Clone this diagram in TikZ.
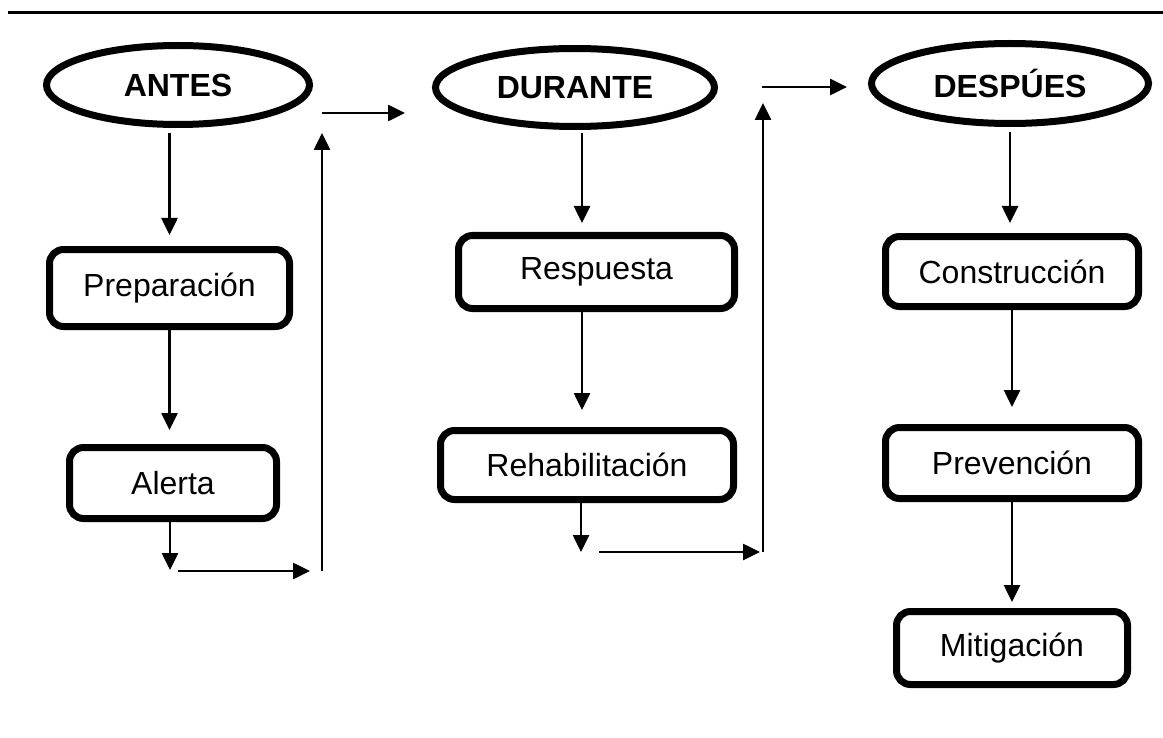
\documentclass[tikz,border=0pt]{standalone}
\usepackage{fontspec}
\setmainfont{Liberation Sans}
\usetikzlibrary{shapes.geometric,arrows.meta}
\tikzstyle{stage}=[draw=black, shape=ellipse, line width=3.5pt, inner sep=0pt, font=\fontsize{16}{19}\selectfont\bfseries]
\tikzstyle{phase}=[draw=black, shape=rectangle, rounded corners=7pt, line width=3.5pt, inner sep=0pt, font=\fontsize{16}{19}\selectfont]
\tikzstyle{arrow edge}=[-{Triangle[length=8.5pt,width=8pt]}, line width=1.3pt]
\tikzstyle{rule edge}=[-, line width=1.5pt]
\pgfdeclarelayer{nodelayer}
\pgfdeclarelayer{edgelayer}
\pgfsetlayers{edgelayer,nodelayer,main}
\begin{document}
\begin{tikzpicture}[x=0.5pt, y=-0.5pt]
	\useasboundingbox (0,0) rectangle (1163,738);
	\begin{pgfonlayer}{nodelayer}
		\node [style=stage, minimum width=131.5pt, minimum height=39.5pt] (0) at (178, 85) {ANTES};
		\node [style=stage, minimum width=139.5pt, minimum height=39pt] (1) at (575, 87.5) {DURANTE};
		\node [style=stage, minimum width=138.5pt, minimum height=40pt] (2) at (1010, 83.5) {DESPÚES};
		\node [style=phase, minimum width=120pt, minimum height=38.5pt] (3) at (169.5, 288) {Preparación};
		\node [style=phase, minimum width=103.5pt, minimum height=35.5pt] (4) at (173, 483) {Alerta};
		\node [style=phase, minimum width=138pt, minimum height=36.5pt] (5) at (596.5, 272) {Respuesta};
		\node [style=phase, minimum width=146.5pt, minimum height=34.5pt] (6) at (587, 465) {Rehabilitación};
		\node [style=phase, minimum width=126.5pt, minimum height=35pt] (7) at (1012, 271.5) {Construcción};
		\node [style=phase, minimum width=126.5pt, minimum height=35.5pt] (8) at (1012, 463) {Prevención};
		\node [style=phase, minimum width=115.5pt, minimum height=36.5pt] (9) at (1012, 648) {Mitigación};
		\coordinate (10) at (170, 570);
		\coordinate (11) at (178, 571);
		\coordinate (12) at (310, 571);
		\coordinate (13) at (322, 571);
		\coordinate (14) at (322, 133);
		\coordinate (15) at (322, 113);
		\coordinate (16) at (405, 113);
		\coordinate (17) at (581, 552);
		\coordinate (18) at (599, 552);
		\coordinate (19) at (760, 552);
		\coordinate (20) at (763, 552);
		\coordinate (21) at (763, 103);
		\coordinate (22) at (762, 87);
		\coordinate (23) at (847, 87);
		\coordinate (24) at (8, 13);
		\coordinate (25) at (1163, 13);
	\end{pgfonlayer}
	\begin{pgfonlayer}{edgelayer}
		\draw [style=rule edge] (24) to (25);
		% antes
		\draw [style=arrow edge, shorten <=2.5pt, shorten >=5.5pt] (0.south -| 3.north) to (3.north);
		\draw [style=arrow edge, shorten >=7pt] (3.south) to (3.south |- 4.north);
		\draw [style=arrow edge] (4.south -| 10) to (10);
		\draw [style=arrow edge] (11) to (12);
		\draw [style=arrow edge] (13) to (14);
		\draw [style=arrow edge] (15) to (16);
		% durante
		\draw [style=arrow edge, shorten <=1.5pt, shorten >=4.5pt] ([xshift=3.5pt]1.south) to ([xshift=3.5pt]1.south |- 5.north);
		\draw [style=arrow edge, shorten >=8.5pt] ([xshift=-2.5pt]6.north |- 5.south) to ([xshift=-2.5pt]6.north);
		\draw [style=arrow edge] (6.south -| 17) to (17);
		\draw [style=arrow edge] (18) to (19);
		\draw [style=arrow edge] (20) to (21);
		\draw [style=arrow edge] (22) to (23);
		% despues
		\draw [style=arrow edge, shorten <=2.5pt, shorten >=5pt] (2.south) to (2.south |- 7.north);
		\draw [style=arrow edge, shorten >=8.5pt] (7.south) to (8.north);
		\draw [style=arrow edge, shorten >=3pt] (8.south) to (9.north);
	\end{pgfonlayer}
\end{tikzpicture}
\end{document}
